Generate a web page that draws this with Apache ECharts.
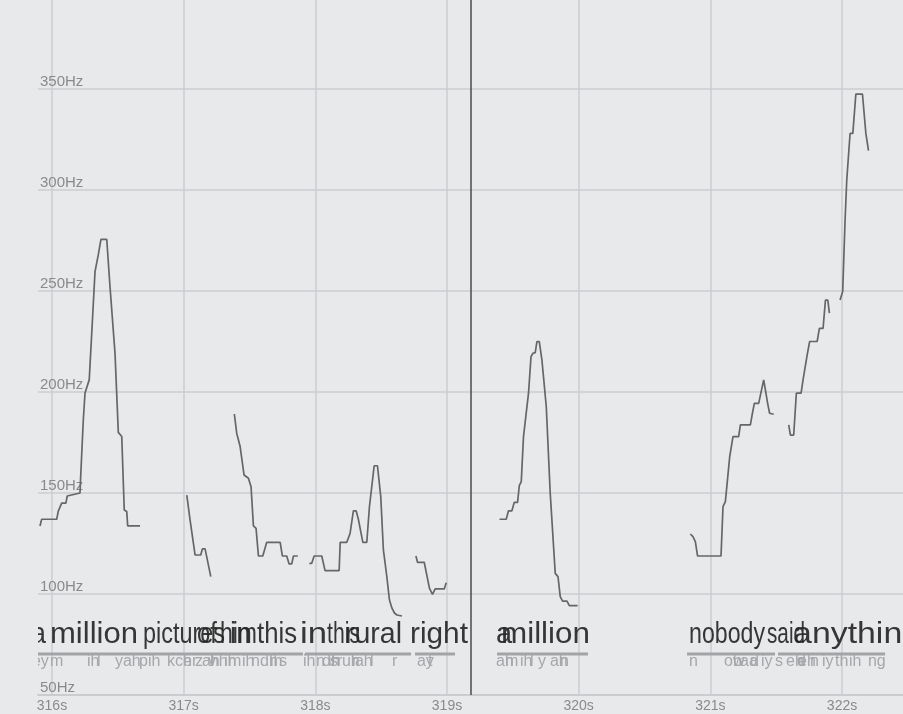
<!DOCTYPE html>
<html>
<head>
<meta charset="utf-8">
<script src="https://cdn.jsdelivr.net/npm/echarts@6/dist/echarts.min.js"></script>
<style>
html, body { margin: 0; padding: 0; background: #e8e9eb; }
#chart { width: 903px; height: 714px; }
</style>
</head>
<body>
<div id="chart"></div>
<script>
// pitch track, seconds / Hz, null = unvoiced gap
var pitchTime = [
  315.909, 315.922, 316.036, 316.048, 316.074, 316.106, 316.116, 316.213, 316.218, 316.238, 316.251, 316.283, 316.302,
  316.327, 316.352, 316.372, 316.416, 316.441, 316.479, 316.504, 316.530, 316.549, 316.568, 316.575, 316.669, null,
  317.024, 317.049, 317.087, 317.130, 317.142, 317.163, 317.206, null,
  317.385, 317.403, 317.429, 317.459, 317.492, 317.512, 317.530, 317.550, 317.568, 317.601, 317.631, 317.733, 317.750,
  317.783, 317.801, 317.821, 317.834, 317.867, null,
  317.955, 317.973, 317.991, 318.049, 318.074, 318.181, 318.189, 318.239, 318.264, 318.289, 318.310, 318.327, 318.361,
  318.391, 318.411, 318.447, 318.472, 318.497, 318.517, 318.543, 318.563, 318.582, 318.601, 318.620, 318.658, null,
  318.764, 318.776, 318.827, 318.867, 318.890, 318.910, 318.979, 318.994, null,
  319.399, 319.450, 319.467, 319.493, 319.511, 319.536, 319.549, 319.564, 319.581, 319.594, 319.619, 319.638, 319.653,
  319.670, 319.683, 319.701, 319.721, 319.754, 319.784, 319.822, 319.843, 319.860, 319.878, 319.911, 319.929, 319.992, null,
  320.848, 320.868, 320.886, 320.903, 321.081, 321.096, 321.114, 321.147, 321.157, 321.172, 321.215, 321.228, 321.304,
  321.317, 321.334, 321.367, 321.405, 321.418, 321.435, 321.450, 321.481, null,
  321.595, 321.608, 321.633, 321.653, 321.689, 321.704, 321.735, 321.754, 321.811, 321.828, 321.856, 321.874, 321.892, 321.904, null,
  321.985, 322.005, 322.023, 322.036, 322.061, 322.082, 322.105, 322.155, 322.181, 322.189, 322.201
];
var pitchHz = [
  133.7, 137, 137, 141, 145, 145, 148.5, 150, 158, 186, 199.5, 206, 229,
  259.6, 268, 275.6, 275.6, 252, 219, 180, 178, 141.6, 140.8, 133.7, 133.7, null,
  149, 136.6, 119.3, 119.3, 122.3, 122.3, 108.6, null,
  189.1, 179.6, 173, 158.9, 157.3, 153.1, 133.7, 132.5, 118.8, 118.8, 125.6, 125.6, 118.8,
  118.8, 114.9, 114.9, 118.8, 118.8, null,
  115.2, 115.2, 118.8, 118.8, 111.6, 111.6, 125.6, 125.6, 130, 141.2, 141.2, 137, 125.6,
  125.6, 143.2, 163.5, 163.5, 148.2, 121.8, 108.6, 97, 93, 90.6, 89.6, 89.1, null,
  118.8, 115.7, 115.7, 102.8, 99.8, 102.5, 102.5, 105.6, null,
  137, 137, 141.2, 141.2, 145.4, 145.4, 153.6, 155.6, 177.9, 178.7, 199.4, 217.5, 219.2,
  219.5, 224.9, 224.9, 215.8, 192.7, 149.9, 110.2, 108.6, 98.7, 96.5, 96.5, 94.2, 94.2, null,
  129.7, 128.4, 125.9, 118.8, 118.8, 143.2, 145.7, 168, 168.8, 177.9, 177.9, 183.7, 183.7,
  188.6, 194.4, 194.4, 206, 201, 194.4, 189.5, 189, null,
  183.7, 178.7, 178.7, 199.4, 199.4, 206, 218.3, 225, 225, 231.5, 231.5, 245.5, 245.5, 239, null,
  245.5, 249.7, 285, 305, 328, 328, 347.5, 347.5, 328, 328, 319.5
];

// words: text and the time span the label covers
var wordText  = ['a', 'million', 'pictures', 'of', 'him', 'in', 'this', 'in', 'this', 'rural', 'right',
                 'a', 'million', 'nobody', 'said', 'anything'];
var wordStart = [315.841, 315.985, 316.691, 317.101, 317.276, 317.352, 317.557, 317.884, 318.089, 318.225, 318.719,
                 319.372, 319.410, 320.838, 321.430, 321.628];
var wordEnd   = [315.954, 316.653, 317.314, 317.253, 317.557, 317.519, 317.861, 318.089, 318.339, 318.658, 319.159,
                 319.494, 320.086, 321.415, 321.719, 322.600];

// underline spans under the word row
var spanStart = [315.890, 317.921, 318.757, 319.380, 320.823, 321.514];
var spanEnd   = [317.906, 318.727, 319.061, 320.071, 321.491, 322.327];

// phonemes and their start times
var phoneText = ['ey', 'm', 'ih', 'l', 'y', 'ah', 'p', 'ih', 'k', 'ch', 'er', 'z', 'ah', 'v', 'hh', 'ih', 'm', 'ih', 'n',
                 'dh', 'ih', 's', 'ih', 'n', 'dh', 'ih', 's', 'r', 'uh', 'r', 'ah', 'l', 'r', 'ay', 't',
                 'ah', 'm', 'ih', 'l', 'y', 'ah', 'n',
                 'n', 'ow', 'b', 'aa', 'd', 'iy', 's', 'eh', 'd', 'eh', 'n', 'iy', 'th', 'ih', 'ng'];
var phoneStart = [315.848, 315.985, 316.266, 316.342, 316.478, 316.539, 316.661, 316.729, 316.873, 316.934, 316.995,
                  317.086, 317.139, 317.185, 317.200, 317.306, 317.337, 317.443, 317.511, 317.580, 317.656, 317.724,
                  317.906, 318.005, 318.051, 318.096, 318.111, 318.165, 318.202, 318.278, 318.301, 318.415, 318.582,
                  318.772, 318.856,
                  319.372, 319.440, 319.554, 319.630, 319.691, 319.782, 319.858,
                  320.838, 321.104, 321.172, 321.225, 321.301, 321.385, 321.491, 321.575, 321.658, 321.666, 321.757,
                  321.848, 321.947, 322.053, 322.197];

var cursorTime = 319.175;

var wordFont = '29px "Liberation Sans", Arial, sans-serif';
var phoneFont = '16px "Liberation Sans", Arial, sans-serif';
var measureCtx = document.createElement('canvas').getContext('2d');
function textWidth(txt, font) {
    measureCtx.font = font;
    return measureCtx.measureText(txt).width;
}

var chart = echarts.init(document.getElementById('chart'));

var option = {
    backgroundColor: '#e8e9eb',
    animation: false,
    grid: { left: 38, right: 0, top: -12, bottom: 19, outerBoundsMode: 'none', containLabel: false },
    xAxis: {
        type: 'value',
        min: 315.894,
        max: 322.463,
        minInterval: 1,
        maxInterval: 1,
        axisLine: { show: true, lineStyle: { color: '#cbccd0', width: 2 } },
        axisTick: { show: false },
        axisLabel: {
            color: '#8a8a8a', fontSize: 14, margin: 4,
            fontFamily: 'Liberation Sans',
            showMinLabel: false, showMaxLabel: false,
            formatter: function (v) { return Math.round(v) + 's'; }
        },
        splitLine: { show: true, showMinLine: false, showMaxLine: false,
                     lineStyle: { color: '#cbccd0', width: 1.5 } }
    },
    yAxis: {
        type: 'value',
        min: 50,
        max: 400,
        interval: 50,
        axisLine: { show: false },
        axisTick: { show: false },
        axisLabel: {
            inside: true, margin: 2, verticalAlign: 'bottom',
            color: '#8a8a8a', fontSize: 15, fontFamily: 'Liberation Sans',
            formatter: '{value}Hz'
        },
        splitLine: { lineStyle: { color: '#cbccd0', width: 1.5 } }
    },
    series: [
        {
            type: 'custom',
            clip: true,
            data: spanStart.map(function (s, i) { return [s, spanEnd[i]]; }),
            renderItem: function (params, api) {
                var p0 = api.coord([api.value(0), 50]);
                var p1 = api.coord([api.value(1), 50]);
                return {
                    type: 'line',
                    shape: { x1: p0[0], y1: p0[1] - 41, x2: p1[0], y2: p0[1] - 41 },
                    style: { stroke: '#a3a4a7', lineWidth: 3 }
                };
            }
        },
        {
            type: 'custom',
            clip: true,
            data: phoneStart.map(function (s, i) { return [s, 100, i]; }),
            renderItem: function (params, api) {
                var p0 = api.coord([api.value(0), 50]);
                return {
                    type: 'text',
                    x: p0[0], y: p0[1] - 33,
                    style: {
                        text: phoneText[api.value(2)], font: phoneFont, fill: '#a6a7aa',
                        align: 'left', verticalAlign: 'middle'
                    }
                };
            }
        },
        {
            type: 'custom',
            clip: true,
            data: wordStart.map(function (s, i) { return [s, wordEnd[i], i]; }),
            renderItem: function (params, api) {
                var i = api.value(2);
                var p0 = api.coord([api.value(0), 50]);
                var p1 = api.coord([api.value(1), 50]);
                var w = textWidth(wordText[i], wordFont);
                return {
                    type: 'text',
                    x: p0[0], y: p0[1] - 60,
                    scaleX: (p1[0] - p0[0]) / w,
                    style: {
                        text: wordText[i], font: wordFont, fill: '#262626',
                        align: 'left', verticalAlign: 'middle', opacity: 0.92
                    }
                };
            }
        },
        {
            type: 'line',
            showSymbol: false,
            connectNulls: false,
            data: pitchTime.map(function (t, i) { return [t, pitchHz[i]]; }),
            lineStyle: { color: '#666666', width: 1.7 },
            markLine: {
                silent: true,
                symbol: ['none', 'none'],
                label: { show: false },
                lineStyle: { color: '#4a4a4a', width: 1.5, type: 'solid' },
                data: [{ xAxis: cursorTime }]
            }
        }
    ]
};

chart.setOption(option);
</script>
</body>
</html>
